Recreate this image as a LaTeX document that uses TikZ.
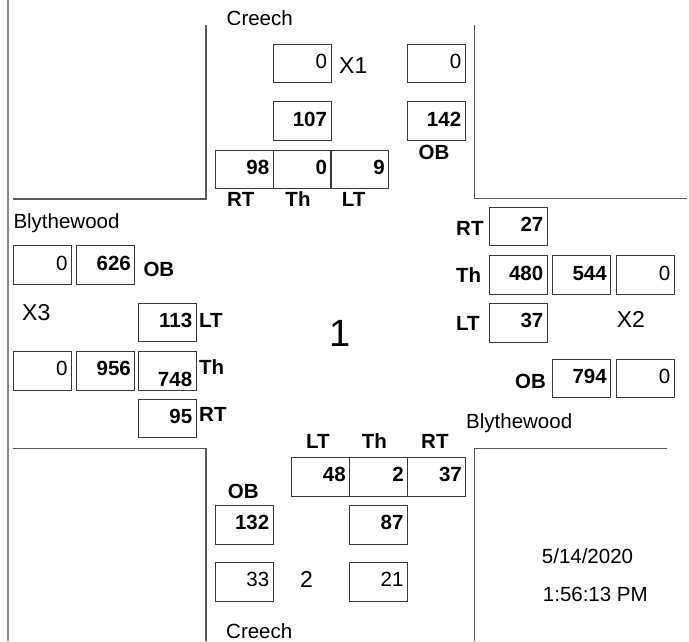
\documentclass[tikz,border=0pt]{standalone}
\usepackage{fontspec}
\setmainfont{Liberation Sans}
\definecolor{boxc}{HTML}{3A3A3A}
\definecolor{roadc}{HTML}{5A5A5A}
\definecolor{edgec}{HTML}{8A8A8A}
\tikzset{
  cellbox/.style={draw=boxc, line width=0.9pt, rectangle, inner xsep=4pt, inner ysep=0pt,
     text width=50pt, align=right, minimum height=38.3pt, text height=12pt, text depth=2pt},
  bnum/.style={cellbox, font=\fontsize{20.5}{24}\selectfont\bfseries},
  rnum/.style={cellbox, font=\fontsize{20.5}{24}\selectfont},
  dirlab/.style={inner sep=0pt, font=\fontsize{20.5}{24}\selectfont\bfseries},
  txtlab/.style={inner sep=0pt, font=\fontsize{20.5}{24}\selectfont},
  xlab/.style={inner sep=0pt, font=\fontsize{23}{27}\selectfont},
  road/.style={draw=roadc, line width=1.3pt},
  edgeline/.style={draw=edgec, line width=2pt}
}
\begin{document}
\begin{tikzpicture}[x=1pt,y=-1pt]
\useasboundingbox (0,0) rectangle (689,641);
% frame and road corners
\coordinate (e1) at (8,0); \coordinate (e2) at (8,641);
\draw[edgeline] (e1) -- (e2);
\coordinate (tl1) at (206,25); \coordinate (tl2) at (206,199); \coordinate (tl3) at (13,199);
\draw[road] (tl1) -- (tl2) -- (tl3);
\coordinate (tr1) at (474.7,25); \coordinate (tr2) at (474.7,198.5); \coordinate (tr3) at (687,198.5);
\draw[road] (tr1) -- (tr2) -- (tr3);
\coordinate (bl1) at (13,448.3); \coordinate (bl2) at (206,448.3); \coordinate (bl3) at (206,641);
\draw[road] (bl1) -- (bl2) -- (bl3);
\coordinate (br1) at (474.7,641); \coordinate (br2) at (474.7,448.3); \coordinate (br3) at (667,448.3);
\draw[road] (br1) -- (br2) -- (br3);

% top approach
\node[txtlab, anchor=base west] (creechT) at (226.5,25.7) {Creech};
\node[rnum] (t0) at (302,63.3) {0};
\node[xlab, anchor=base west] (x1) at (339,73) {X1};
\node[rnum] (t0b) at (436.2,63.3) {0};
\node[bnum] (t107) at (302,121) {107};
\node[bnum] (t142) at (436.2,121) {142};
\node[dirlab, anchor=base] (tob) at (434,159.5) {OB};
\node[bnum] (trt) at (244.2,169.2) {98};
\node[bnum] (tth) at (302,169.2) {0};
\node[bnum] (tlt) at (359.8,169.2) {9};
\node[dirlab, anchor=base] (trtl) at (240.8,206.7) {RT};
\node[dirlab, anchor=base] (tthl) at (298,206.7) {Th};
\node[dirlab, anchor=base] (tltl) at (353.7,206.7) {LT};

% left approach
\node[txtlab, anchor=base west] (blyL) at (13.3,228.3) {Blythewood};
\node[rnum] (l0a) at (42.5,265) {0};
\node[bnum] (l626) at (105.9,265) {626};
\node[dirlab, anchor=base west] (lob) at (143.3,276) {OB};
\node[xlab, anchor=base west] (x3) at (22,320) {X3};
\node[bnum] (l113) at (167.2,322.2) {113};
\node[dirlab, anchor=base west] (lltl) at (199,327) {LT};
\node[rnum] (l0b) at (42.5,370.9) {0};
\node[bnum] (l956) at (105.9,370.9) {956};
\node[bnum, text height=31.6pt, text depth=0pt] (l748) at (167.2,370.9) {748};
\node[dirlab, anchor=base west] (lthl) at (199,374) {Th};
\node[bnum] (l95) at (167.2,418.7) {95};
\node[dirlab, anchor=base west] (lrtl) at (199,421.7) {RT};

% centre
\node[inner sep=0pt, font=\fontsize{38}{44}\selectfont] (one) at (340,333.5) {1};

% right approach
\node[dirlab, anchor=base west] (rrtl) at (456,235) {RT};
\node[bnum] (r27) at (518.3,226.7) {27};
\node[dirlab, anchor=base west] (rthl) at (456,282.7) {Th};
\node[bnum] (r480) at (518.3,275) {480};
\node[bnum] (r544) at (581.7,275) {544};
\node[rnum] (r0a) at (645.2,275) {0};
\node[dirlab, anchor=base west] (rltl) at (456,330.7) {LT};
\node[bnum] (r37) at (518.3,322.8) {37};
\node[xlab, anchor=base west] (x2) at (616.7,327.7) {X2};
\node[dirlab, anchor=base west] (robl) at (515,388.3) {OB};
\node[bnum] (r794) at (581.7,378.5) {794};
\node[rnum] (r0b) at (645.2,378.5) {0};
\node[txtlab, anchor=base west] (blyR) at (466,428) {Blythewood};

% bottom approach
\node[dirlab, anchor=base west] (bltl) at (306,448.3) {LT};
\node[dirlab, anchor=base west] (bthl) at (361.7,448.3) {Th};
\node[dirlab, anchor=base west] (brtl) at (421,448.3) {RT};
\node[bnum] (blt) at (320.8,476.9) {48};
\node[bnum] (bth) at (378.8,476.9) {2};
\node[bnum] (brt) at (436.8,476.9) {37};
\node[dirlab, anchor=base west] (bobl) at (227.7,498.3) {OB};
\node[bnum] (b132) at (244.3,524.9) {132};
\node[bnum] (b87) at (378.5,524.9) {87};
\node[rnum] (b33) at (244.3,581.9) {33};
\node[xlab, anchor=base west] (two) at (300,587.7) {2};
\node[rnum] (b21) at (378.5,581.9) {21};
\node[txtlab, anchor=base west] (creechB) at (226,638) {Creech};

% date and time
\node[txtlab, anchor=base west] (date) at (541.7,563.3) {5/14/2020};
\node[txtlab, anchor=base west] (time) at (542.7,601.7) {1:56:13 PM};
\end{tikzpicture}
\end{document}
